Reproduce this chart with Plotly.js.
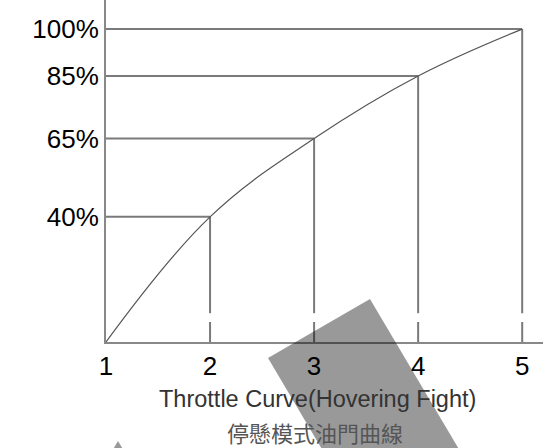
<!DOCTYPE html>
<html>
<head>
<meta charset="utf-8">
<script src="https://cdn.plot.ly/plotly-3.0.1.min.js"></script>
<style>html,body{margin:0;padding:0;background:#fff;}#chart{width:549px;height:448px;}</style>
</head>
<body>
<div id="chart"></div>
<script>
// Data
var stickPositions = [1, 2, 3, 4, 5];
var throttleValues = [0, 40, 65, 85, 100];
var yTickValues = [40, 65, 85, 100];
var yTickLabels = ['40%', '65%', '85%', '100%'];
var xTickValues = [1, 2, 3, 4, 5];
var xTickLabels = ['1', '2', '3', '4', '5'];
var titleLine1 = 'Throttle Curve(Hovering Fight)';
var titleLine2 = '停懸模式油門曲線';

// Guide lines built from the data
var hx = [], hy = [], vx = [], vy = [];
var gapTop = 9.2, gapBottom = 6.4;
for (var i = 1; i < stickPositions.length; i++) {
  hx.push(stickPositions[0], stickPositions[i], null);
  hy.push(throttleValues[i], throttleValues[i], null);
  vx.push(stickPositions[i], stickPositions[i], null, stickPositions[i], stickPositions[i], null);
  vy.push(throttleValues[i], gapTop, null, gapBottom, 0, null);
}

var traces = [
  {x: hx, y: hy, mode: 'lines', line: {color: '#7a7a7a', width: 2}, hoverinfo: 'skip', showlegend: false},
  {x: vx, y: vy, mode: 'lines', line: {color: '#7a7a7a', width: 2}, hoverinfo: 'skip', showlegend: false},
  {x: stickPositions, y: throttleValues, mode: 'lines', line: {color: '#555', width: 1.2, shape: 'spline', smoothing: 1.1}, showlegend: false}
];

var layout = {
  width: 549, height: 448,
  margin: {l: 106, r: 6, t: 0, b: 106},
  paper_bgcolor: '#fff', plot_bgcolor: '#fff',
  font: {family: 'Liberation Sans, Arial, sans-serif', color: '#000'},
  xaxis: {
    range: [1, 5.2], showgrid: false, zeroline: false,
    showline: true, linecolor: '#888', linewidth: 2,
    tickmode: 'array', tickvals: xTickValues, ticktext: xTickLabels,
    ticks: '', tickfont: {size: 26, color: '#000'}
  },
  yaxis: {
    range: [0, 109.3], showgrid: false, zeroline: false,
    showline: true, linecolor: '#888', linewidth: 2,
    tickmode: 'array', tickvals: yTickValues, ticktext: yTickLabels,
    ticks: '', tickfont: {size: 26, color: '#000'}, ticklabelstandoff: 0
  },
  annotations: [
    {text: titleLine1, xref: 'paper', yref: 'paper', x: 0.485, y: -0.166, xanchor: 'center', yanchor: 'middle',
     showarrow: false, font: {size: 23.5, color: '#333', family: 'Liberation Sans, Arial, sans-serif'}},
    {text: titleLine2, xref: 'paper', yref: 'paper', x: 0.478, y: -0.262, xanchor: 'center', yanchor: 'middle',
     showarrow: false, font: {size: 22, color: '#555', family: 'Noto Sans CJK TC, sans-serif'}}
  ],
  shapes: [
    {type: 'path', xref: 'paper', yref: 'paper', layer: 'above', line: {width: 0},
     fillcolor: 'rgba(0,0,0,0.4)',
     path: 'M 0.6041 0.1257 L 0.3707 -0.0468 L 0.5034 -0.3333 L 0.8169 -0.3333 Z'},
    {type: 'path', xref: 'paper', yref: 'paper', layer: 'above', line: {width: 0},
     fillcolor: 'rgba(0,0,0,0.4)',
     path: 'M 0.0275 -0.2895 L 0.0069 -0.3333 L 0.0481 -0.3333 Z'}
  ]
};

Plotly.newPlot('chart', traces, layout, {displayModeBar: false, staticPlot: true});
</script>
</body>
</html>
